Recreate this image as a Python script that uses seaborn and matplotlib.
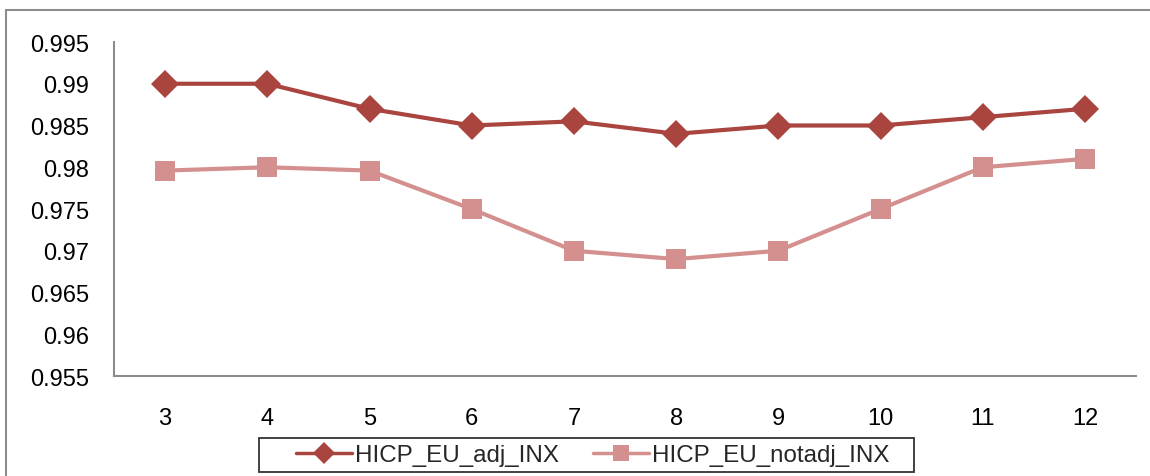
import matplotlib
matplotlib.use("Agg")
import matplotlib.pyplot as plt
import seaborn as sns
import pandas as pd
from matplotlib.patches import Rectangle

# months on the x axis
months = [3, 4, 5, 6, 7, 8, 9, 10, 11, 12]
adj_inx = [0.990, 0.990, 0.987, 0.985, 0.9855, 0.984, 0.985, 0.985, 0.986, 0.987]
notadj_inx = [0.9796, 0.980, 0.9796, 0.975, 0.970, 0.969, 0.970, 0.975, 0.980, 0.981]
series_names = ["HICP_EU_adj_INX", "HICP_EU_notadj_INX"]
y_ticks = [0.955, 0.96, 0.965, 0.97, 0.975, 0.98, 0.985, 0.99, 0.995]

df = pd.DataFrame({"month": months * 2,
                   "value": adj_inx + notadj_inx,
                   "series": [series_names[0]] * len(months) + [series_names[1]] * len(months)})

sns.set_style("white")
plt.rcParams["font.family"] = ["Liberation Sans", "DejaVu Sans"]

fig = plt.figure(figsize=(11.5, 4.77), dpi=100)
ax = fig.add_axes([114 / 1150, 100 / 477, 1022 / 1150, 334 / 477])

colors = {series_names[0]: "#A9443F", series_names[1]: "#D4908E"}
markers = {series_names[0]: "D", series_names[1]: "s"}
sns.lineplot(data=df, x="month", y="value", hue="series", style="series",
             palette=colors, markers=markers, dashes=False, linewidth=3,
             markersize=14, markeredgewidth=0, ax=ax)

ax.set_xlim(2.5, 12.5)
ax.set_ylim(0.955, 0.995)
ax.set_xticks(months)
ax.set_xticklabels([str(m) for m in months])
ax.set_yticks(y_ticks)
ax.set_yticklabels([f"{t:g}" for t in y_ticks])
ax.tick_params(axis="both", length=0, labelsize=17, colors="black")
ax.tick_params(axis="y", pad=18)
ax.tick_params(axis="x", pad=22)
ax.set_xlabel("")
ax.set_ylabel("")
for side in ["top", "right"]:
    ax.spines[side].set_visible(False)
for side in ["left", "bottom"]:
    ax.spines[side].set_color("#8c8c8c")
    ax.spines[side].set_linewidth(1.5)

leg = ax.legend(loc="center left", bbox_to_anchor=(284 / 1150, 1 - 456 / 477),
                bbox_transform=fig.transFigure, ncol=2, fontsize=17.4,
                frameon=False, handlelength=2.3, handletextpad=0.15,
                columnspacing=1.4, borderpad=0, markerscale=0.8)
for line in leg.get_lines():
    line.set_linewidth(2.5)

# legend box
fig.patches.append(Rectangle((259 / 1150, 1 - 473 / 477), 655 / 1150, 34 / 477,
                             transform=fig.transFigure, fill=False,
                             edgecolor="#333333", linewidth=1.3))

# outer chart border (runs off the right and bottom edges)
fig.patches.append(Rectangle((6 / 1150, -0.05), 1.2, 0.977 + 0.05,
                             transform=fig.transFigure, fill=False,
                             edgecolor="#8c8c8c", linewidth=1.5))

plt.savefig("out.png", dpi=100)
